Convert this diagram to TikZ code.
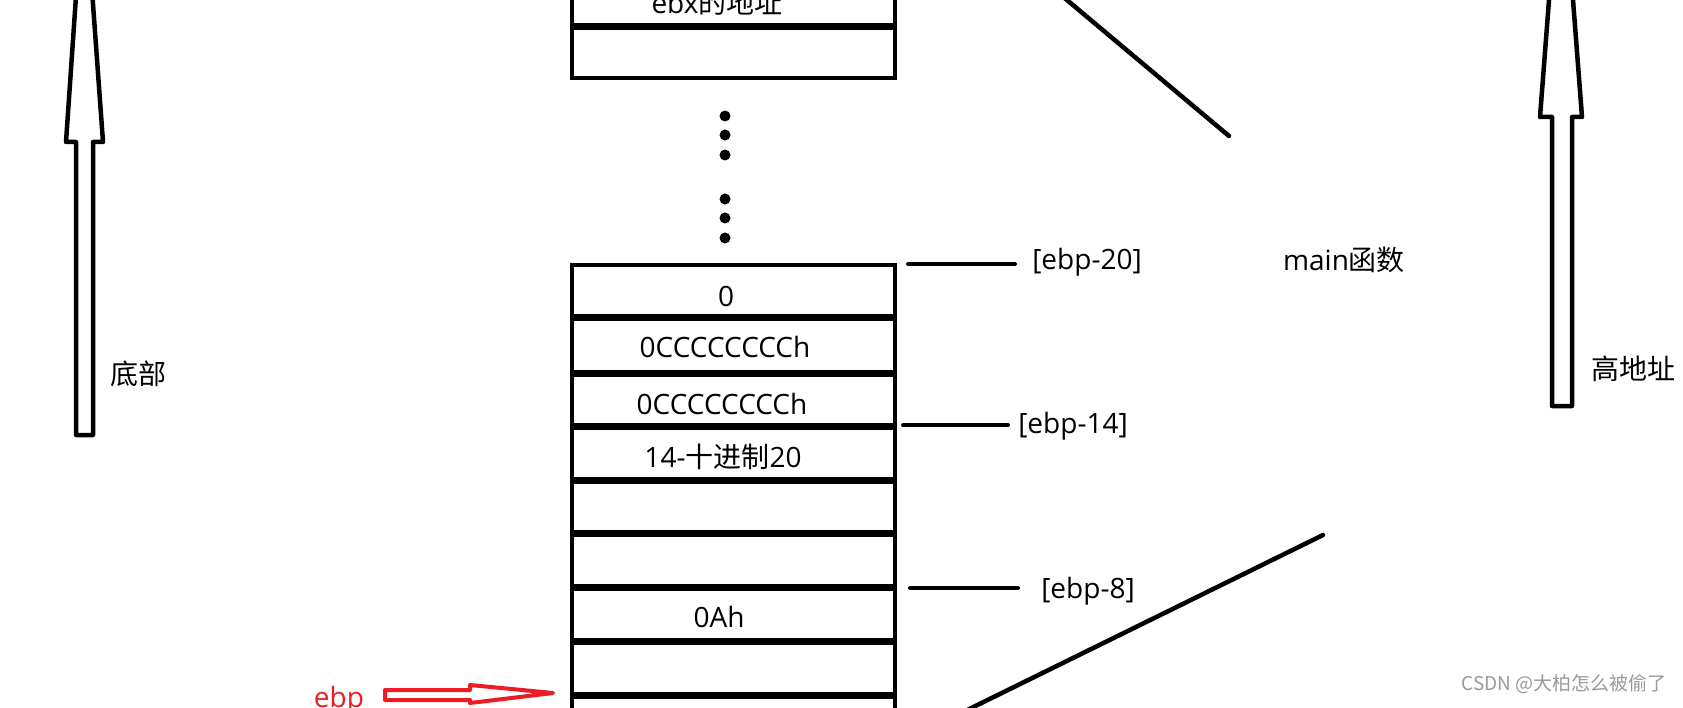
\documentclass[tikz,border=0pt]{standalone}
\usepackage{fontspec}
\setmainfont{Open Sans}
\newfontfamily\cjk{Noto Sans CJK SC}
\definecolor{paintred}{HTML}{ED1C24}
\definecolor{wmgray}{HTML}{9A9A9A}
\begin{document}
\begin{tikzpicture}[x=1pt,y=-1pt,
  boxline/.style={line width=4.5pt},
  sepline/.style={line width=7pt},
  tickline/.style={line width=4pt, line cap=round},
  diag/.style={line width=4.5pt},
  blockarrow/.style={line width=4.5pt, line join=round},
  lab/.style={font=\fontsize{28}{34}\selectfont, inner sep=0pt, anchor=base},
  dot/.style={circle, fill=black, minimum size=11pt, inner sep=0pt}]
\useasboundingbox (0,0) rectangle (1683,708);
\clip (0,0) rectangle (1683,708);
\fill[white] (0,0) rectangle (1683,708);

% upper stack box
\draw[boxline] (572,-20) -- (572,78) -- (895,78) -- (895,-20);
\draw[sepline] (572,27) -- (895,27);
\node[lab] (ebx) at (717,14) {ebx{\cjk 的地址}};

% dots
\node[dot] (d1) at (725,116) {};
\node[dot] (d2) at (725,135) {};
\node[dot] (d3) at (725,155) {};
\node[dot] (d4) at (725,199) {};
\node[dot] (d5) at (725,218) {};
\node[dot] (d6) at (725,238) {};

% lower stack box
\draw[boxline] (572,720) -- (572,265) -- (895,265) -- (895,720);
\foreach \yy in {318,373,426,480,533,587,641,695}
  \draw[sepline] (572,\yy) -- (895,\yy);

\node[lab] (r1) at (726,307) {0};
\node[lab] (r2) at (725,358) {0CCCCCCCCh};
\node[lab] (r3) at (722,414) {0CCCCCCCCh};
\node[lab] (r4) at (723,467) {14-{\cjk 十进制}20};
\node[lab] (r7) at (719,627) {0Ah};

% offset labels
\coordinate (t20a) at (908,264);
\coordinate (t20b) at (1015,264);
\draw[tickline] (t20a) -- (t20b);
\node[lab] (e20) at (1087,270) {[ebp-20]};
\coordinate (t14a) at (903,425);
\coordinate (t14b) at (1008,425);
\draw[tickline] (t14a) -- (t14b);
\node[lab] (e14) at (1073,433) {[ebp-14]};
\coordinate (t8a) at (910,588);
\coordinate (t8b) at (1018,588);
\draw[tickline] (t8a) -- (t8b);
\node[lab] (e8) at (1088,598) {[ebp-8]};

\node[lab] (mainf) at (1344,271) {main{\cjk 函数}};

% diagonal brace lines
\coordinate (da1) at (1055,-10);
\coordinate (da2) at (1229,136);
\draw[diag, line cap=round] (da1) -- (da2);
\coordinate (db1) at (1323,535);
\coordinate (db2) at (951,718);
\draw[diag, line cap=round] (db1) -- (db2);

% left block arrow
\draw[blockarrow] (76,435) -- (76,142) -- (66,142) -- (84,-120) -- (103,142) -- (93,142) -- (93,435) -- cycle;
\node[lab] (bottom) at (138,384) {{\cjk 底部}};

% right block arrow
\draw[blockarrow] (1552,406) -- (1552,117) -- (1540,117) -- (1561,-156) -- (1582,117) -- (1572,117) -- (1572,406) -- cycle;
\node[lab] (high) at (1633,379) {{\cjk 高地址}};

% red ebp arrow
\node[lab, text=paintred] (ebp) at (339,707) {ebp};
\draw[blockarrow, draw=paintred, line width=4pt] (385,690) -- (470,690) -- (470,685) -- (553,693) -- (470,703) -- (470,700) -- (385,700) -- cycle;

% watermark
\node[inner sep=0pt, anchor=base, text=wmgray, font=\cjk\fontsize{19}{23}\selectfont] (wm) at (1564,690) {CSDN @大柏怎么被偷了};
\end{tikzpicture}
\end{document}
